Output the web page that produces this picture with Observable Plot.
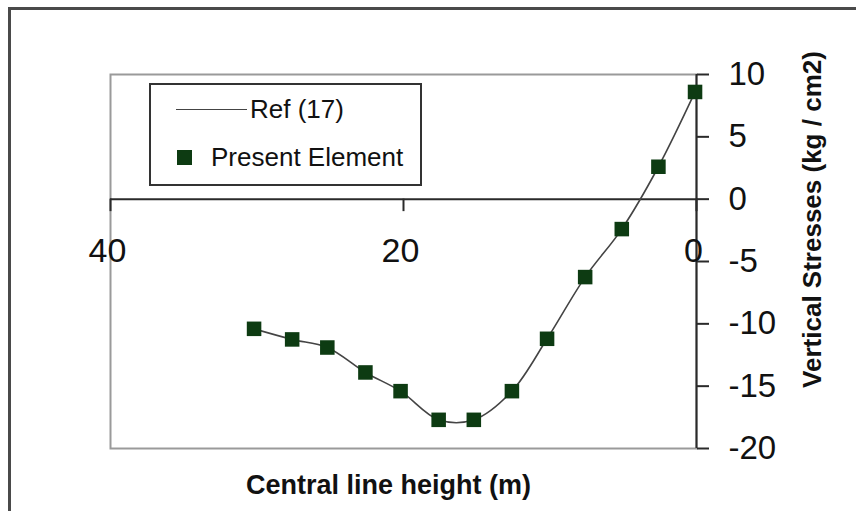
<!DOCTYPE html>
<html>
<head>
<meta charset="utf-8">
<script src="https://cdn.jsdelivr.net/npm/d3@7"></script>
<script src="https://cdn.jsdelivr.net/npm/@observablehq/plot@0.6"></script>
<style>
  html, body { margin: 0; padding: 0; background: #fff; }
  #wrap { position: relative; width: 856px; height: 511px; overflow: hidden; font-family: "Liberation Sans", Arial, sans-serif; }
  #outer { position: absolute; left: 8px; top: 7px; width: 900px; height: 600px; border: 3px solid #4a4a4a; box-sizing: border-box; }
  #chart { position: absolute; left: 0; top: 0; }
  #legend { position: absolute; left: 149px; top: 83px; width: 273px; height: 103px; border: 2px solid #333; box-sizing: border-box; background: #fff; }
  .lg-row { position: absolute; display: flex; align-items: center; font-size: 26px; color: #111; }
  .lg-line { display: inline-block; width: 71px; height: 0; border-top: 1.5px solid #444; margin-right: 3px; }
  .lg-sq { display: inline-block; width: 15px; height: 15px; background: #0d3b12; margin-right: 19px; }
</style>
</head>
<body>
<div id="wrap">
  <div id="outer"></div>
  <div id="chart"></div>
  <div id="legend">
    <div class="lg-row" style="left:25px; top:9px;"><span class="lg-line"></span><span>Ref (17)</span></div>
    <div class="lg-row" style="left:26px; top:57px;"><span class="lg-sq"></span><span>Present Element</span></div>
  </div>
</div>
<script>
// Data
const heights = [30.2, 27.6, 25.2, 22.6, 20.2, 17.6, 15.2, 12.6, 10.2, 7.6, 5.1, 2.6, 0.1];
const stresses = [-10.4, -11.25, -11.9, -13.9, -15.4, -17.7, -17.7, -15.4, -11.2, -6.25, -2.4, 2.6, 8.6];
const xTicks = [40, 20, 0];
const yTicks = [10, 5, 0, -5, -10, -15, -20];
const xLabel = "Central line height (m)";
const yLabel = "Vertical Stresses (kg / cm2)";

const data = heights.map((h, i) => ({h, s: stresses[i]}));

const chart = Plot.plot({
  width: 856,
  height: 511,
  marginLeft: 110,
  marginRight: 160,
  marginTop: 74,
  marginBottom: 63,
  style: {fontFamily: "'Liberation Sans', Arial, sans-serif", background: "transparent", color: "#111"},
  x: {domain: [40, 0], axis: null},
  y: {domain: [-20, 10], axis: null},
  marks: [
    Plot.frame({stroke: "#9a9a9a", strokeWidth: 2}),
    Plot.ruleY([0], {stroke: "#2a2a2a", strokeWidth: 2}),
    Plot.ruleX([0], {stroke: "#2a2a2a", strokeWidth: 2}),
    Plot.ruleX(xTicks, {x: d => d, y1: 0, y2: -1, stroke: "#2a2a2a", strokeWidth: 2}),
    Plot.text(xTicks, {x: d => d, y: 0, text: d => String(d), dy: 52, dx: -3, fontSize: 34, fill: "#111"}),
    Plot.axisY({anchor: "right", ticks: yTicks, tickSize: 12, tickPadding: 20, fontSize: 33, label: null, stroke: "#2a2a2a", strokeWidth: 2, fill: "#111", tickFormat: d => String(d)}),
    Plot.line(data, {x: "h", y: "s", curve: "catmull-rom", stroke: "#444", strokeWidth: 1.6}),
    Plot.dot(data, {x: "h", y: "s", symbol: "square", r: 8.2, fill: "#0d3b12", stroke: "none"}),
    Plot.text([yLabel], {frameAnchor: "right", textAnchor: "middle", lineAnchor: "middle", rotate: -90, dx: 116, dy: -42, fontSize: 26, fontWeight: "bold", fill: "#111"}),
    Plot.text([xLabel], {frameAnchor: "bottom", textAnchor: "middle", lineAnchor: "middle", dx: -15, dy: 37, fontSize: 27, fontWeight: "bold", fill: "#111"})
  ]
});
document.getElementById("chart").appendChild(chart);
</script>
</body>
</html>
